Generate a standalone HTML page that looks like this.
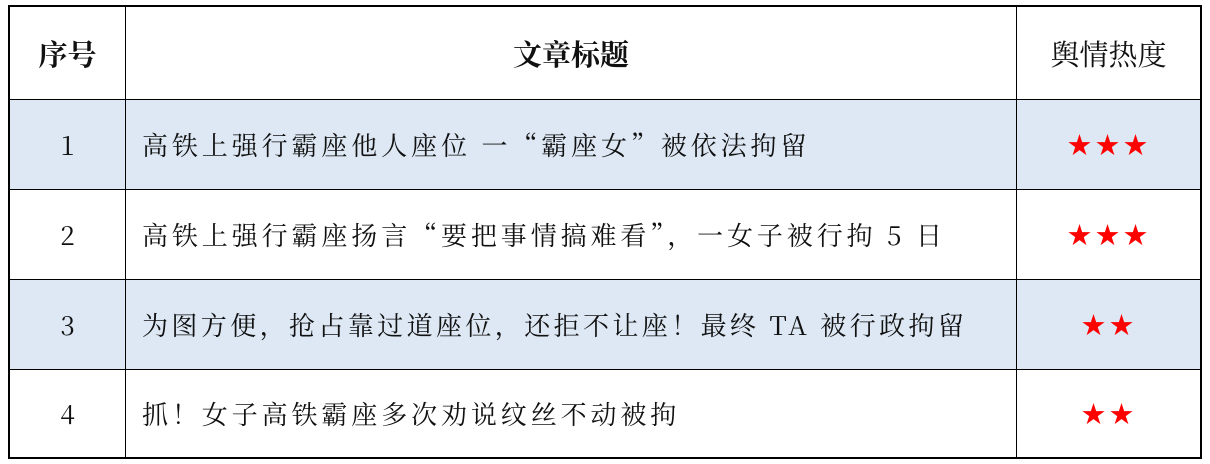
<!DOCTYPE html>
<html><head><meta charset="utf-8"><style>
html,body{margin:0;padding:0;background:#fff;width:1210px;height:464px;overflow:hidden}
.t{position:absolute;left:8px;top:5px;width:1194px;height:454px;border:2px solid #000;box-sizing:border-box}
.r{position:absolute;left:0;width:1190px;border-bottom:1.5px solid #000;box-sizing:border-box}
.c{position:absolute;top:0;height:100%;display:flex;align-items:center;font-family:"Noto Serif CJK SC","Liberation Serif",serif;font-size:26px;color:#111}
.c1{left:0;width:116px;justify-content:center;border-right:1.5px solid #000;box-sizing:border-box}
.c2{left:116px;width:891px;padding-left:16px;box-sizing:border-box;border-right:1.5px solid #000;letter-spacing:3.9px;white-space:pre}
.c3{left:1007px;width:183px;justify-content:center;color:#f00;font-family:"DejaVu Sans",sans-serif;font-size:29px;letter-spacing:2px}
.h .c{font-weight:bold;font-size:29px;letter-spacing:0}
.h .c3{color:#111;font-weight:normal;font-family:"Noto Serif CJK SC",serif;font-size:29px}
.b{background:#dde8f4}
</style></head><body>
<div class="t">
<div class="r h" style="top:0;height:93px"><div class="c c1">序号</div><div class="c c2" style="justify-content:center;padding-left:0">文章标题</div><div class="c c3">舆情热度</div></div>
<div class="r b" style="top:93px;height:90px"><div class="c c1">1</div><div class="c c2">高铁上强行霸座他人座位 一“霸座女”被依法拘留</div><div class="c c3">★★★</div></div>
<div class="r" style="top:183px;height:90px"><div class="c c1">2</div><div class="c c2">高铁上强行霸座扬言“要把事情搞难看”，一女子被行拘 5 日</div><div class="c c3">★★★</div></div>
<div class="r b" style="top:273px;height:90px"><div class="c c1">3</div><div class="c c2" style="letter-spacing:3.4px">为图方便，抢占靠过道座位，还拒不让座！最终 TA 被行政拘留</div><div class="c c3">★★</div></div>
<div class="r" style="top:363px;height:87px;border-bottom:none"><div class="c c1">4</div><div class="c c2">抓！女子高铁霸座多次劝说纹丝不动被拘</div><div class="c c3">★★</div></div>
</div>
</body></html>
